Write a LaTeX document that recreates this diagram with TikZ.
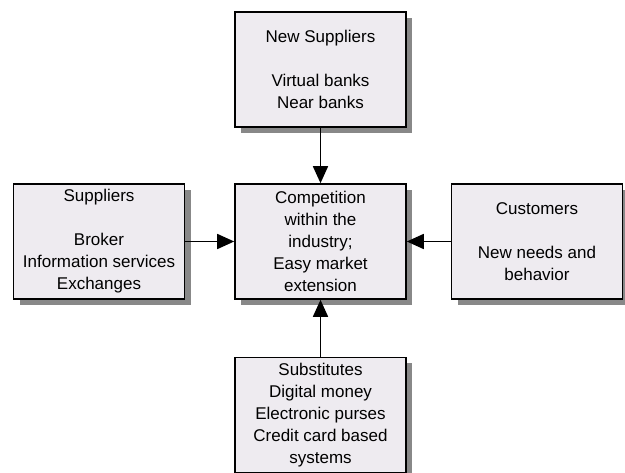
\documentclass[tikz,border=0pt]{standalone}
\usepackage{fontspec}
\setmainfont{Liberation Sans}
\usetikzlibrary{shadows,arrows.meta,positioning}
\definecolor{boxfill}{RGB}{238,235,240}
\definecolor{shadowgray}{RGB}{136,136,136}

\begin{document}
\begin{tikzpicture}
[x=1pt,y=-1pt,
%
force/.style={shape=rectangle,draw=black,line width=1.6pt,fill=boxfill,
  minimum width=171pt,minimum height=115pt,inner sep=0pt,align=center,
  font={\fontsize{17}{22}\selectfont},
  drop shadow={shadow xshift=6pt,shadow yshift=-6pt,fill=shadowgray,opacity=1}},
%
edge/.style={draw,line width=1.6pt,-{Triangle[length=17pt,width=15pt]}}]
%
\useasboundingbox (0,0) rectangle (625,473);
%
%% the industry in the middle
\node (comp) [force] at (320.5,241.5)
  {Competition\\within the\\industry;\\Easy market\\extension};
%
%% the four forces round it
\node (newsup) [force] at (320.5,69.5)
  {New Suppliers\\[22pt]Virtual banks\\Near banks};
\node (sup) [force] at (99,241.5)
  {Suppliers\\[22pt]Broker\\Information services\\Exchanges};
\node (cust) [force] at (537,241.5)
  {Customers\\[22pt]New needs and\\behavior};
\node (subst) [force] at (320.5,415)
  {Substitutes\\Digital money\\Electronic purses\\Credit card based\\systems};
%
%% arrows into the middle
\draw[edge] (newsup) -- (comp);
\draw[edge] (sup) -- (comp);
\draw[edge] (cust) -- (comp);
\draw[edge] (subst) -- (comp);
\end{tikzpicture}
\end{document}
